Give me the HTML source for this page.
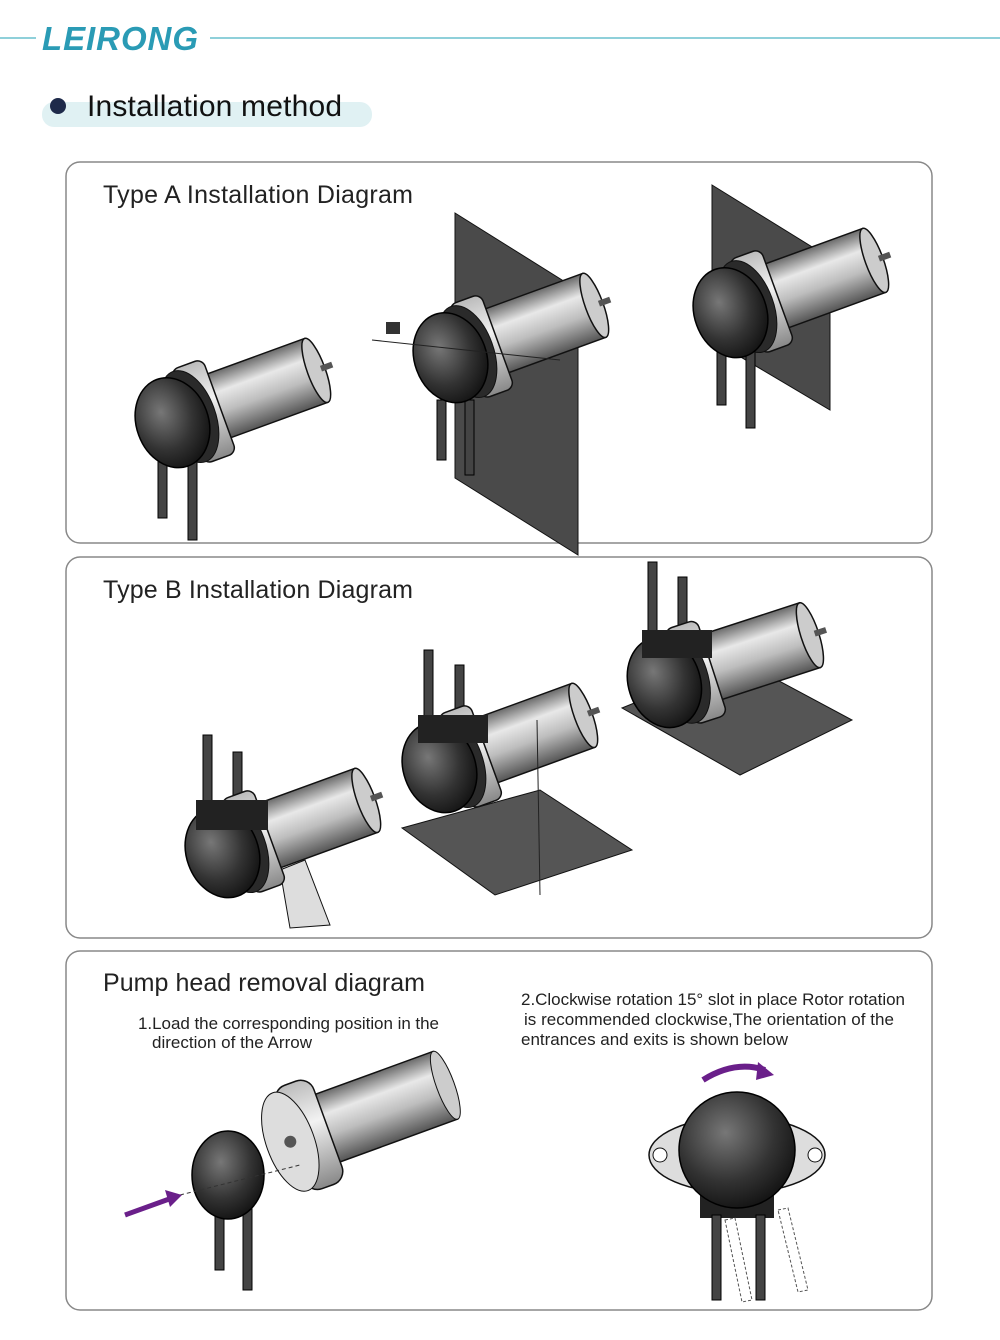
<!DOCTYPE html>
<html><head><meta charset="utf-8"><style>
body{margin:0;background:#fff;width:1000px;height:1335px;overflow:hidden;font-family:"Liberation Sans",sans-serif}
</style></head><body>
<svg width="1000" height="1335" viewBox="0 0 1000 1335" xmlns="http://www.w3.org/2000/svg" font-family="Liberation Sans, sans-serif">
<defs>
<linearGradient id="mg" x1="0" y1="0" x2="0" y2="1">
<stop offset="0" stop-color="#6a6a6a"/><stop offset="0.3" stop-color="#e8e8e8"/><stop offset="0.6" stop-color="#bdbdbd"/><stop offset="1" stop-color="#555"/></linearGradient>
<linearGradient id="fg" x1="0" y1="0" x2="0" y2="1">
<stop offset="0" stop-color="#bbb"/><stop offset="0.4" stop-color="#f2f2f2"/><stop offset="1" stop-color="#888"/></linearGradient>
<radialGradient id="hg" cx="0.4" cy="0.35" r="0.7">
<stop offset="0" stop-color="#777"/><stop offset="0.6" stop-color="#333"/><stop offset="1" stop-color="#111"/></radialGradient>
<g id="pump">
<rect x="30" y="-34" width="115" height="68" fill="url(#mg)" stroke="#111" stroke-width="1.5"/>
<ellipse cx="145" cy="0" rx="9" ry="34" fill="#ccc" stroke="#111" stroke-width="1.5"/>
<rect x="150" y="-3" width="12" height="6" fill="#555"/>
<rect x="8" y="-50" width="34" height="100" rx="8" fill="url(#fg)" stroke="#111" stroke-width="1.5"/>
<ellipse cx="10" cy="0" rx="26" ry="48" fill="#2a2a2a" stroke="#111"/>
<ellipse cx="-8" cy="0" rx="36" ry="46" fill="url(#hg)" stroke="#000" stroke-width="1.5"/>
</g>
</defs>

<line x1="0" y1="38" x2="36" y2="38" stroke="#8fd0da" stroke-width="2"/>
<line x1="210" y1="38" x2="1000" y2="38" stroke="#8fd0da" stroke-width="2"/>
<text x="42" y="50" font-size="33" font-weight="bold" font-style="italic" fill="#2a9bb5" textLength="156">LEIRONG</text>
<rect x="42" y="102" width="330" height="25" rx="12" fill="#e0f1f3"/>
<circle cx="58" cy="106" r="8" fill="#1e2a4a"/>
<text x="87" y="116" font-size="30" fill="#111" textLength="255">Installation method</text>

<rect x="66" y="162" width="866" height="381" rx="14" fill="#fff" stroke="#888" stroke-width="1.5"/>
<rect x="66" y="557" width="866" height="381" rx="14" fill="#fff" stroke="#888" stroke-width="1.5"/>
<rect x="66" y="951" width="866" height="359" rx="14" fill="#fff" stroke="#888" stroke-width="1.5"/>

<text x="103" y="203" font-size="25" fill="#222" textLength="310">Type A Installation Diagram</text>
<text x="103" y="598" font-size="25" fill="#222" textLength="310">Type B Installation Diagram</text>
<text x="103" y="991" font-size="25" fill="#222" textLength="322">Pump head removal diagram</text>
<text x="138" y="1029" font-size="17" fill="#222" textLength="301">1.Load the corresponding position in the</text>
<text x="152" y="1048" font-size="17" fill="#222" textLength="160">direction of the Arrow</text>
<text x="521" y="1005" font-size="17" fill="#222" textLength="384">2.Clockwise rotation 15° slot in place Rotor rotation</text>
<text x="524" y="1025" font-size="17" fill="#222" textLength="370">is recommended clockwise,The orientation of the</text>
<text x="521" y="1045" font-size="17" fill="#222" textLength="267">entrances and exits is shown below</text>

<rect x="158" y="460" width="9" height="58" fill="#444" stroke="#000"/>
<rect x="188" y="460" width="9" height="80" fill="#444" stroke="#000"/>
<use href="#pump" transform="translate(180,420) rotate(-20)"/>

<polygon points="455,213 578,290 578,555 455,478" fill="#4a4a4a" stroke="#111"/>
<rect x="437" y="400" width="9" height="60" fill="#444" stroke="#000"/>
<rect x="465" y="400" width="9" height="75" fill="#444" stroke="#000"/>
<use href="#pump" transform="translate(458,355) rotate(-20)"/>
<line x1="372" y1="340" x2="560" y2="360" stroke="#222" stroke-width="1"/>
<rect x="386" y="322" width="14" height="12" fill="#333"/>

<polygon points="712,185 830,258 830,410 712,340" fill="#4a4a4a" stroke="#111"/>
<rect x="717" y="350" width="9" height="55" fill="#444" stroke="#000"/>
<rect x="746" y="350" width="9" height="78" fill="#444" stroke="#000"/>
<use href="#pump" transform="translate(738,310) rotate(-20)"/>

<rect x="203" y="735" width="9" height="70" fill="#444" stroke="#000"/>
<rect x="233" y="752" width="9" height="60" fill="#444" stroke="#000"/>
<polygon points="280,870 305,860 330,925 290,928" fill="#ddd" stroke="#111"/>
<use href="#pump" transform="translate(230,850) rotate(-20)"/>
<rect x="196" y="800" width="72" height="30" fill="#222"/>

<polygon points="402,828 540,790 632,850 495,895" fill="#555" stroke="#111"/>
<rect x="424" y="650" width="9" height="70" fill="#444" stroke="#000"/>
<rect x="455" y="665" width="9" height="60" fill="#444" stroke="#000"/>
<use href="#pump" transform="translate(447,765) rotate(-20)"/>
<rect x="418" y="715" width="70" height="28" fill="#222"/>
<line x1="537" y1="720" x2="540" y2="895" stroke="#222"/>

<polygon points="622,708 740,660 852,720 740,775" fill="#555" stroke="#111"/>
<rect x="648" y="562" width="9" height="70" fill="#444" stroke="#000"/>
<rect x="678" y="577" width="9" height="60" fill="#444" stroke="#000"/>
<use href="#pump" transform="translate(672,680) rotate(-18)"/>
<rect x="642" y="630" width="70" height="28" fill="#222"/>

<g transform="translate(295,1140) rotate(-20)">
<rect x="20" y="-36" width="140" height="72" fill="url(#mg)" stroke="#111" stroke-width="1.5"/>
<ellipse cx="160" cy="0" rx="9" ry="36" fill="#ccc" stroke="#111"/>
<rect x="-5" y="-55" width="40" height="110" rx="14" fill="url(#fg)" stroke="#111" stroke-width="1.5"/>
<ellipse cx="-5" cy="0" rx="24" ry="52" fill="#ddd" stroke="#111"/>
<circle cx="-5" cy="0" r="6" fill="#555"/>
</g>
<rect x="215" y="1200" width="9" height="70" fill="#444" stroke="#000"/>
<rect x="243" y="1200" width="9" height="90" fill="#444" stroke="#000"/>
<ellipse cx="228" cy="1175" rx="36" ry="44" fill="url(#hg)" stroke="#000" stroke-width="1.5"/>
<line x1="180" y1="1195" x2="300" y2="1165" stroke="#333" stroke-dasharray="4,3"/>
<line x1="125" y1="1215" x2="172" y2="1198" stroke="#6a1f8a" stroke-width="5"/>
<polygon points="182,1195 165,1190 170,1207" fill="#6a1f8a"/>

<ellipse cx="737" cy="1155" rx="88" ry="38" fill="#ddd" stroke="#111" stroke-width="1.5"/>
<circle cx="660" cy="1155" r="7" fill="#fff" stroke="#111"/>
<circle cx="815" cy="1155" r="7" fill="#fff" stroke="#111"/>
<rect x="700" y="1190" width="74" height="28" fill="#222"/>
<rect x="712" y="1215" width="9" height="85" fill="#444" stroke="#000"/>
<rect x="756" y="1215" width="9" height="85" fill="#444" stroke="#000"/>
<polygon points="725,1220 735,1218 752,1300 742,1302" fill="none" stroke="#555" stroke-dasharray="3,2"/>
<polygon points="778,1210 788,1208 808,1290 798,1292" fill="none" stroke="#555" stroke-dasharray="3,2"/>
<circle cx="737" cy="1150" r="58" fill="url(#hg)" stroke="#000" stroke-width="1.5"/>
<path d="M703 1080 Q735 1060 765 1070" fill="none" stroke="#6a1f8a" stroke-width="6"/>
<polygon points="774,1075 758,1062 756,1080" fill="#6a1f8a"/>
</svg>
</body></html>
